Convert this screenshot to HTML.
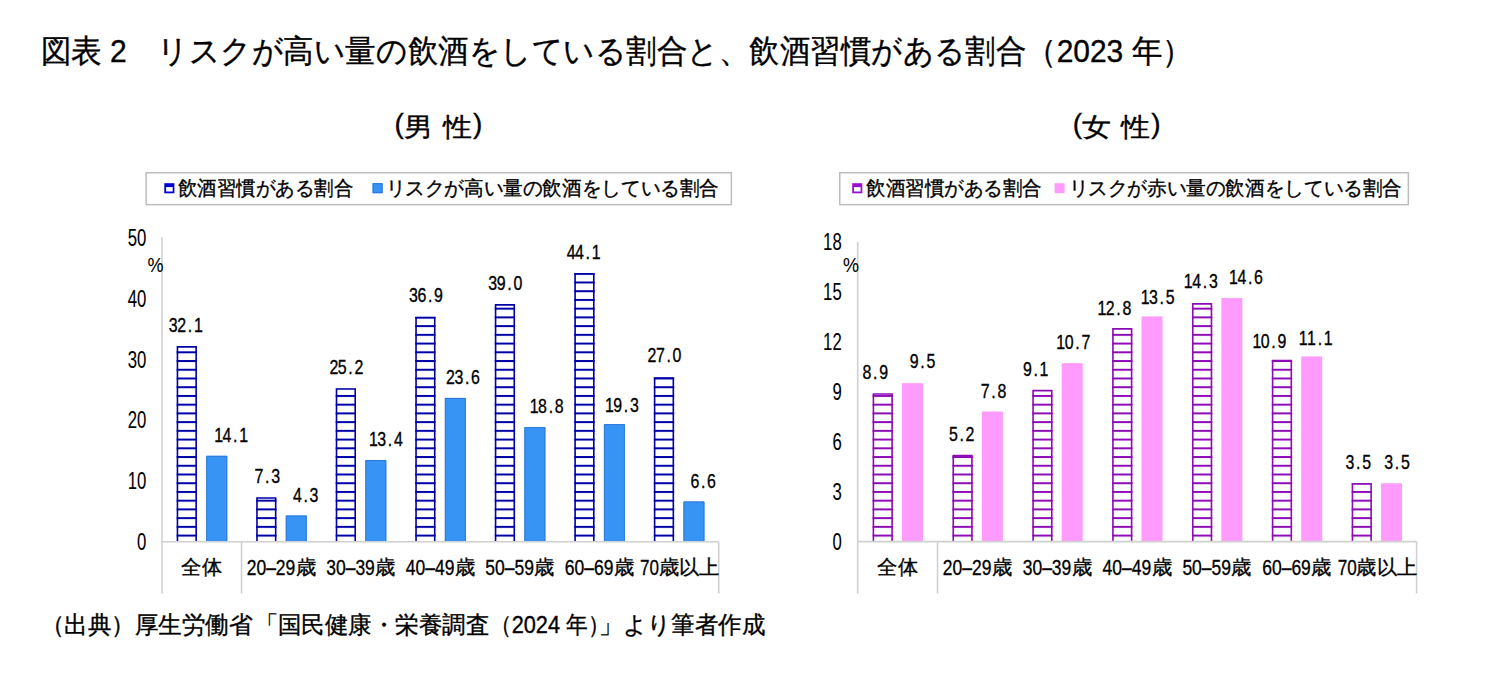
<!DOCTYPE html>
<html><head><meta charset="utf-8"><style>
html,body{margin:0;padding:0;background:#fff;width:1496px;height:681px;overflow:hidden}
svg{display:block}
text{font-family:"Liberation Sans", sans-serif;fill:#000;stroke:#000;stroke-width:0.35px}
.ns{stroke-width:0.1px}
</style></head><body>
<svg width="1496" height="681" viewBox="0 0 1496 681">
<rect width="1496" height="681" fill="#fff"/>
<text x="40.5" y="62" font-size="31.5" text-anchor="start" textLength="709.1" lengthAdjust="spacingAndGlyphs">図表 2　リスクが高い量の飲酒をしている割合と、</text>
<text x="749.4" y="62" font-size="31.5" text-anchor="start" textLength="443.1" lengthAdjust="spacingAndGlyphs">飲酒習慣がある割合（2023 年）</text>
<text x="394.5" y="133" font-size="28" text-anchor="start">(</text>
<text x="403.6" y="136" font-size="26" text-anchor="start" textLength="29" lengthAdjust="spacingAndGlyphs">男</text>
<text x="442.7" y="136" font-size="26" text-anchor="start" textLength="29" lengthAdjust="spacingAndGlyphs">性</text>
<text x="473.0" y="133" font-size="28" text-anchor="start">)</text>
<text x="1072.8" y="133" font-size="28" text-anchor="start">(</text>
<text x="1081.8999999999999" y="136" font-size="26" text-anchor="start" textLength="29" lengthAdjust="spacingAndGlyphs">女</text>
<text x="1121.0" y="136" font-size="26" text-anchor="start" textLength="29" lengthAdjust="spacingAndGlyphs">性</text>
<text x="1151.3" y="133" font-size="28" text-anchor="start">)</text>
<text x="40.7" y="633" font-size="24" text-anchor="start" textLength="211.9" lengthAdjust="spacingAndGlyphs">（出典）厚生労働省</text>
<text x="254.5" y="633" font-size="24" text-anchor="start" textLength="234.7" lengthAdjust="spacingAndGlyphs">「国民健康・栄養調査</text>
<text x="489.9" y="633" font-size="24" text-anchor="start" textLength="119.6" lengthAdjust="spacingAndGlyphs">（2024 年）</text>
<text x="599.2" y="633" font-size="24" text-anchor="start" textLength="165.9" lengthAdjust="spacingAndGlyphs">」より筆者作成</text>
<defs><pattern id="pm" patternUnits="userSpaceOnUse" x="0" y="10.920000000000096" width="20" height="8.728"><rect x="0" y="0" width="20" height="2" fill="#0000A8"/></pattern></defs>
<rect x="176.65" y="346.11" width="20.3" height="195.59" fill="#fff"/>
<rect x="176.65" y="346.11" width="20.3" height="195.59" fill="url(#pm)"/>
<path d="M177.45 541.70V346.91H196.15V541.70" fill="none" stroke="#0000A8" stroke-width="1.6"/>
<rect x="206.25" y="455.79" width="21" height="85.91" fill="#3894F4"/>
<path d="M206.75 541.70V456.29H226.75V541.70" fill="none" stroke="#2F78D8" stroke-width="1"/>
<rect x="256.18" y="497.22" width="20.3" height="44.48" fill="#fff"/>
<rect x="256.18" y="497.22" width="20.3" height="44.48" fill="url(#pm)"/>
<path d="M256.98 541.70V498.02H275.68V541.70" fill="none" stroke="#0000A8" stroke-width="1.6"/>
<rect x="285.78" y="515.50" width="21" height="26.20" fill="#3894F4"/>
<path d="M286.28 541.70V516.00H306.28V541.70" fill="none" stroke="#2F78D8" stroke-width="1"/>
<rect x="335.71" y="388.16" width="20.3" height="153.54" fill="#fff"/>
<rect x="335.71" y="388.16" width="20.3" height="153.54" fill="url(#pm)"/>
<path d="M336.51 541.70V388.96H355.21V541.70" fill="none" stroke="#0000A8" stroke-width="1.6"/>
<rect x="365.31" y="460.05" width="21" height="81.65" fill="#3894F4"/>
<path d="M365.81 541.70V460.55H385.81V541.70" fill="none" stroke="#2F78D8" stroke-width="1"/>
<rect x="415.24" y="316.87" width="20.3" height="224.83" fill="#fff"/>
<rect x="415.24" y="316.87" width="20.3" height="224.83" fill="url(#pm)"/>
<path d="M416.04 541.70V317.67H434.74V541.70" fill="none" stroke="#0000A8" stroke-width="1.6"/>
<rect x="444.84" y="397.91" width="21" height="143.79" fill="#3894F4"/>
<path d="M445.34 541.70V398.41H465.34V541.70" fill="none" stroke="#2F78D8" stroke-width="1"/>
<rect x="494.77" y="304.07" width="20.3" height="237.63" fill="#fff"/>
<rect x="494.77" y="304.07" width="20.3" height="237.63" fill="url(#pm)"/>
<path d="M495.57 541.70V304.87H514.27V541.70" fill="none" stroke="#0000A8" stroke-width="1.6"/>
<rect x="524.37" y="427.15" width="21" height="114.55" fill="#3894F4"/>
<path d="M524.87 541.70V427.65H544.87V541.70" fill="none" stroke="#2F78D8" stroke-width="1"/>
<rect x="574.30" y="273.00" width="20.3" height="268.70" fill="#fff"/>
<rect x="574.30" y="273.00" width="20.3" height="268.70" fill="url(#pm)"/>
<path d="M575.10 541.70V273.80H593.80V541.70" fill="none" stroke="#0000A8" stroke-width="1.6"/>
<rect x="603.90" y="424.11" width="21" height="117.59" fill="#3894F4"/>
<path d="M604.40 541.70V424.61H624.40V541.70" fill="none" stroke="#2F78D8" stroke-width="1"/>
<rect x="653.83" y="377.19" width="20.3" height="164.51" fill="#fff"/>
<rect x="653.83" y="377.19" width="20.3" height="164.51" fill="url(#pm)"/>
<path d="M654.63 541.70V377.99H673.33V541.70" fill="none" stroke="#0000A8" stroke-width="1.6"/>
<rect x="683.43" y="501.49" width="21" height="40.21" fill="#3894F4"/>
<path d="M683.93 541.70V501.99H703.93V541.70" fill="none" stroke="#2F78D8" stroke-width="1"/>
<line x1="162" y1="237.3" x2="162" y2="593.5" stroke="#D0D0D0" stroke-width="1.6"/>
<line x1="162" y1="541.7" x2="718.71" y2="541.7" stroke="#D0D0D0" stroke-width="1.6"/>
<line x1="241.53" y1="541.7" x2="241.53" y2="593.5" stroke="#D0D0D0" stroke-width="1.6"/>
<line x1="718.71" y1="541.7" x2="718.71" y2="593.5" stroke="#D0D0D0" stroke-width="1.6"/>
<text x="137.1" y="550.3" font-size="23" text-anchor="start" textLength="9.3" lengthAdjust="spacingAndGlyphs" class="ns">0</text>
<text x="127.8" y="489.37" font-size="23" text-anchor="start" textLength="18.6" lengthAdjust="spacingAndGlyphs" class="ns">10</text>
<text x="127.8" y="428.44" font-size="23" text-anchor="start" textLength="18.6" lengthAdjust="spacingAndGlyphs" class="ns">20</text>
<text x="127.8" y="367.51" font-size="23" text-anchor="start" textLength="18.6" lengthAdjust="spacingAndGlyphs" class="ns">30</text>
<text x="127.8" y="306.58" font-size="23" text-anchor="start" textLength="18.6" lengthAdjust="spacingAndGlyphs" class="ns">40</text>
<text x="127.8" y="245.65" font-size="23" text-anchor="start" textLength="18.6" lengthAdjust="spacingAndGlyphs" class="ns">50</text>
<text x="147.4" y="272" font-size="20.5" text-anchor="start" textLength="16" lengthAdjust="spacingAndGlyphs" class="ns">%</text>
<text x="181.46" y="573.8" font-size="20" text-anchor="start" textLength="40.6" lengthAdjust="spacingAndGlyphs">全体</text>
<text x="246.70" y="574.7" font-size="22.6" text-anchor="start" textLength="48.6" lengthAdjust="spacingAndGlyphs">20–29</text>
<text x="295.69" y="573.8" font-size="20" text-anchor="start" textLength="20.3" lengthAdjust="spacingAndGlyphs">歳</text>
<text x="326.22" y="574.7" font-size="22.6" text-anchor="start" textLength="48.6" lengthAdjust="spacingAndGlyphs">30–39</text>
<text x="375.22" y="573.8" font-size="20" text-anchor="start" textLength="20.3" lengthAdjust="spacingAndGlyphs">歳</text>
<text x="405.75" y="574.7" font-size="22.6" text-anchor="start" textLength="48.6" lengthAdjust="spacingAndGlyphs">40–49</text>
<text x="454.75" y="573.8" font-size="20" text-anchor="start" textLength="20.3" lengthAdjust="spacingAndGlyphs">歳</text>
<text x="485.28" y="574.7" font-size="22.6" text-anchor="start" textLength="48.6" lengthAdjust="spacingAndGlyphs">50–59</text>
<text x="534.28" y="573.8" font-size="20" text-anchor="start" textLength="20.3" lengthAdjust="spacingAndGlyphs">歳</text>
<text x="564.81" y="574.7" font-size="22.6" text-anchor="start" textLength="48.6" lengthAdjust="spacingAndGlyphs">60–69</text>
<text x="613.81" y="573.8" font-size="20" text-anchor="start" textLength="20.3" lengthAdjust="spacingAndGlyphs">歳</text>
<text x="640.05" y="574.7" font-size="22.6" text-anchor="start" textLength="19" lengthAdjust="spacingAndGlyphs">70</text>
<text x="658.75" y="573.8" font-size="20" text-anchor="start" textLength="60.6" lengthAdjust="spacingAndGlyphs">歳以上</text>
<text transform="scale(0.78,1)" x="222.15 232.85 243.56 254.26" y="332.4" font-size="20.4" text-anchor="middle">32.1</text>
<text transform="scale(0.78,1)" x="280.22 290.93 301.63 312.34" y="442.2" font-size="20.4" text-anchor="middle">14.1</text>
<text transform="scale(0.78,1)" x="331.96 342.66 353.37" y="482.7" font-size="20.4" text-anchor="middle">7.3</text>
<text transform="scale(0.78,1)" x="381.19 391.89 402.60" y="502.1" font-size="20.4" text-anchor="middle">4.3</text>
<text transform="scale(0.78,1)" x="428.04 438.75 449.46 460.16" y="373.9" font-size="20.4" text-anchor="middle">25.2</text>
<text transform="scale(0.78,1)" x="478.69 489.39 500.10 510.80" y="445.9" font-size="20.4" text-anchor="middle">13.4</text>
<text transform="scale(0.78,1)" x="530.10 540.80 551.51 562.21" y="302.4" font-size="20.4" text-anchor="middle">36.9</text>
<text transform="scale(0.78,1)" x="577.53 588.24 598.94 609.65" y="383.6" font-size="20.4" text-anchor="middle">23.6</text>
<text transform="scale(0.78,1)" x="631.76 642.47 653.17 663.88" y="290.1" font-size="20.4" text-anchor="middle">39.0</text>
<text transform="scale(0.78,1)" x="684.84 695.54 706.25 716.96" y="412.7" font-size="20.4" text-anchor="middle">18.8</text>
<text transform="scale(0.78,1)" x="732.15 742.85 753.56 764.26" y="259.1" font-size="20.4" text-anchor="middle">44.1</text>
<text transform="scale(0.78,1)" x="781.25 791.96 802.66 813.37" y="412.0" font-size="20.4" text-anchor="middle">19.3</text>
<text transform="scale(0.78,1)" x="835.87 846.57 857.28 867.98" y="362.3" font-size="20.4" text-anchor="middle">27.0</text>
<text transform="scale(0.78,1)" x="890.80 901.51 912.21" y="488.1" font-size="20.4" text-anchor="middle">6.6</text>
<defs><pattern id="pw" patternUnits="userSpaceOnUse" x="0" y="10.920000000000096" width="20" height="8.728"><rect x="0" y="0" width="20" height="2" fill="#8C0CB4"/></pattern></defs>
<rect x="872.60" y="393.15" width="20.3" height="148.45" fill="#fff"/>
<rect x="872.60" y="393.15" width="20.3" height="148.45" fill="url(#pw)"/>
<path d="M873.40 541.60V393.95H892.10V541.60" fill="none" stroke="#8C0CB4" stroke-width="1.6"/>
<rect x="902.00" y="383.14" width="21" height="158.46" fill="#FF9BFF"/>
<rect x="952.44" y="454.86" width="20.3" height="86.74" fill="#fff"/>
<rect x="952.44" y="454.86" width="20.3" height="86.74" fill="url(#pw)"/>
<path d="M953.24 541.60V455.66H971.94V541.60" fill="none" stroke="#8C0CB4" stroke-width="1.6"/>
<rect x="981.84" y="411.50" width="21" height="130.10" fill="#FF9BFF"/>
<rect x="1032.28" y="389.81" width="20.3" height="151.79" fill="#fff"/>
<rect x="1032.28" y="389.81" width="20.3" height="151.79" fill="url(#pw)"/>
<path d="M1033.08 541.60V390.61H1051.78V541.60" fill="none" stroke="#8C0CB4" stroke-width="1.6"/>
<rect x="1061.68" y="363.12" width="21" height="178.48" fill="#FF9BFF"/>
<rect x="1112.12" y="328.10" width="20.3" height="213.50" fill="#fff"/>
<rect x="1112.12" y="328.10" width="20.3" height="213.50" fill="url(#pw)"/>
<path d="M1112.92 541.60V328.90H1131.62V541.60" fill="none" stroke="#8C0CB4" stroke-width="1.6"/>
<rect x="1141.52" y="316.42" width="21" height="225.18" fill="#FF9BFF"/>
<rect x="1191.96" y="303.08" width="20.3" height="238.52" fill="#fff"/>
<rect x="1191.96" y="303.08" width="20.3" height="238.52" fill="url(#pw)"/>
<path d="M1192.76 541.60V303.88H1211.46V541.60" fill="none" stroke="#8C0CB4" stroke-width="1.6"/>
<rect x="1221.36" y="298.07" width="21" height="243.53" fill="#FF9BFF"/>
<rect x="1271.80" y="359.79" width="20.3" height="181.81" fill="#fff"/>
<rect x="1271.80" y="359.79" width="20.3" height="181.81" fill="url(#pw)"/>
<path d="M1272.60 541.60V360.59H1291.30V541.60" fill="none" stroke="#8C0CB4" stroke-width="1.6"/>
<rect x="1301.20" y="356.45" width="21" height="185.15" fill="#FF9BFF"/>
<rect x="1351.64" y="483.22" width="20.3" height="58.38" fill="#fff"/>
<rect x="1351.64" y="483.22" width="20.3" height="58.38" fill="url(#pw)"/>
<path d="M1352.44 541.60V484.02H1371.14V541.60" fill="none" stroke="#8C0CB4" stroke-width="1.6"/>
<rect x="1381.04" y="483.22" width="21" height="58.38" fill="#FF9BFF"/>
<line x1="857.7" y1="241.7" x2="857.7" y2="593.5" stroke="#D0D0D0" stroke-width="1.6"/>
<line x1="857.7" y1="541.6" x2="1416.58" y2="541.6" stroke="#D0D0D0" stroke-width="1.6"/>
<line x1="937.54" y1="541.6" x2="937.54" y2="593.5" stroke="#D0D0D0" stroke-width="1.6"/>
<line x1="1416.58" y1="541.6" x2="1416.58" y2="593.5" stroke="#D0D0D0" stroke-width="1.6"/>
<text x="832.4" y="550.2" font-size="23" text-anchor="start" textLength="9.3" lengthAdjust="spacingAndGlyphs" class="ns">0</text>
<text x="832.4" y="500.16" font-size="23" text-anchor="start" textLength="9.3" lengthAdjust="spacingAndGlyphs" class="ns">3</text>
<text x="832.4" y="450.12" font-size="23" text-anchor="start" textLength="9.3" lengthAdjust="spacingAndGlyphs" class="ns">6</text>
<text x="832.4" y="400.08" font-size="23" text-anchor="start" textLength="9.3" lengthAdjust="spacingAndGlyphs" class="ns">9</text>
<text x="823.1" y="350.04" font-size="23" text-anchor="start" textLength="18.6" lengthAdjust="spacingAndGlyphs" class="ns">12</text>
<text x="823.1" y="300.0" font-size="23" text-anchor="start" textLength="18.6" lengthAdjust="spacingAndGlyphs" class="ns">15</text>
<text x="823.1" y="249.96" font-size="23" text-anchor="start" textLength="18.6" lengthAdjust="spacingAndGlyphs" class="ns">18</text>
<text x="843.1" y="272" font-size="20.5" text-anchor="start" textLength="16" lengthAdjust="spacingAndGlyphs" class="ns">%</text>
<text x="877.32" y="573.8" font-size="20" text-anchor="start" textLength="40.6" lengthAdjust="spacingAndGlyphs">全体</text>
<text x="942.86" y="574.7" font-size="22.6" text-anchor="start" textLength="48.6" lengthAdjust="spacingAndGlyphs">20–29</text>
<text x="991.86" y="573.8" font-size="20" text-anchor="start" textLength="20.3" lengthAdjust="spacingAndGlyphs">歳</text>
<text x="1022.70" y="574.7" font-size="22.6" text-anchor="start" textLength="48.6" lengthAdjust="spacingAndGlyphs">30–39</text>
<text x="1071.70" y="573.8" font-size="20" text-anchor="start" textLength="20.3" lengthAdjust="spacingAndGlyphs">歳</text>
<text x="1102.54" y="574.7" font-size="22.6" text-anchor="start" textLength="48.6" lengthAdjust="spacingAndGlyphs">40–49</text>
<text x="1151.54" y="573.8" font-size="20" text-anchor="start" textLength="20.3" lengthAdjust="spacingAndGlyphs">歳</text>
<text x="1182.38" y="574.7" font-size="22.6" text-anchor="start" textLength="48.6" lengthAdjust="spacingAndGlyphs">50–59</text>
<text x="1231.38" y="573.8" font-size="20" text-anchor="start" textLength="20.3" lengthAdjust="spacingAndGlyphs">歳</text>
<text x="1262.22" y="574.7" font-size="22.6" text-anchor="start" textLength="48.6" lengthAdjust="spacingAndGlyphs">60–69</text>
<text x="1311.22" y="573.8" font-size="20" text-anchor="start" textLength="20.3" lengthAdjust="spacingAndGlyphs">歳</text>
<text x="1337.76" y="574.7" font-size="22.6" text-anchor="start" textLength="19" lengthAdjust="spacingAndGlyphs">70</text>
<text x="1356.46" y="573.8" font-size="20" text-anchor="start" textLength="60.6" lengthAdjust="spacingAndGlyphs">歳以上</text>
<text transform="scale(0.78,1)" x="1111.44 1122.15 1132.85" y="378.7" font-size="20.4" text-anchor="middle">8.9</text>
<text transform="scale(0.78,1)" x="1172.08 1182.79 1193.49" y="368.4" font-size="20.4" text-anchor="middle">9.5</text>
<text transform="scale(0.78,1)" x="1222.21 1232.92 1243.62" y="440.8" font-size="20.4" text-anchor="middle">5.2</text>
<text transform="scale(0.78,1)" x="1262.98 1273.69 1284.39" y="398.2" font-size="20.4" text-anchor="middle">7.8</text>
<text transform="scale(0.78,1)" x="1317.08 1327.79 1338.49" y="376.2" font-size="20.4" text-anchor="middle">9.1</text>
<text transform="scale(0.78,1)" x="1359.97 1370.67 1381.38 1392.08" y="349.1" font-size="20.4" text-anchor="middle">10.7</text>
<text transform="scale(0.78,1)" x="1412.66 1423.37 1434.07 1444.78" y="315.5" font-size="20.4" text-anchor="middle">12.8</text>
<text transform="scale(0.78,1)" x="1468.04 1478.75 1489.46 1500.16" y="304.4" font-size="20.4" text-anchor="middle">13.5</text>
<text transform="scale(0.78,1)" x="1523.43 1534.13 1544.84 1555.54" y="288.4" font-size="20.4" text-anchor="middle">14.3</text>
<text transform="scale(0.78,1)" x="1581.38 1592.08 1602.79 1613.49" y="283.9" font-size="20.4" text-anchor="middle">14.6</text>
<text transform="scale(0.78,1)" x="1611.38 1622.08 1632.79 1643.49" y="347.8" font-size="20.4" text-anchor="middle">10.9</text>
<text transform="scale(0.78,1)" x="1670.74 1681.44 1692.15 1702.85" y="345.3" font-size="20.4" text-anchor="middle">11.1</text>
<text transform="scale(0.78,1)" x="1730.67 1741.38 1752.08" y="469.0" font-size="20.4" text-anchor="middle">3.5</text>
<text transform="scale(0.78,1)" x="1780.29 1790.99 1801.70" y="469.0" font-size="20.4" text-anchor="middle">3.5</text>
<rect x="146.15" y="172.75" width="585.2" height="31.9" fill="#fff" stroke="#BDBDBD" stroke-width="1.5"/>
<rect x="164.3" y="183.2" width="10.1" height="10.1" fill="#0000D0"/>
<rect x="166.10000000000002" y="187.1" width="6.6" height="4.4" fill="#fff"/>
<text x="178" y="195" font-size="19.5" text-anchor="start" textLength="175" lengthAdjust="spacingAndGlyphs">飲酒習慣がある割合</text>
<rect x="372.6" y="183.2" width="10" height="10" fill="#3894F4"/>
<rect x="373.1" y="183.7" width="9" height="9" fill="none" stroke="#2F70D8" stroke-width="1"/>
<text x="385.5" y="195" font-size="19.5" text-anchor="start" textLength="333.5" lengthAdjust="spacingAndGlyphs">リスクが高い量の飲酒をしている割合</text>
<rect x="839.75" y="172.75" width="568.5999999999999" height="31.9" fill="#fff" stroke="#BDBDBD" stroke-width="1.5"/>
<rect x="852.2" y="183.2" width="10.1" height="10.1" fill="#9A10CC"/>
<rect x="854.0" y="187.1" width="6.6" height="4.4" fill="#fff"/>
<text x="866" y="195" font-size="19.5" text-anchor="start" textLength="176" lengthAdjust="spacingAndGlyphs">飲酒習慣がある割合</text>
<rect x="1054.6" y="183.2" width="10" height="10" fill="#FF9BFF"/>
<text x="1068.5" y="195" font-size="19.5" text-anchor="start" textLength="333.5" lengthAdjust="spacingAndGlyphs">リスクが赤い量の飲酒をしている割合</text>
</svg></body></html>
